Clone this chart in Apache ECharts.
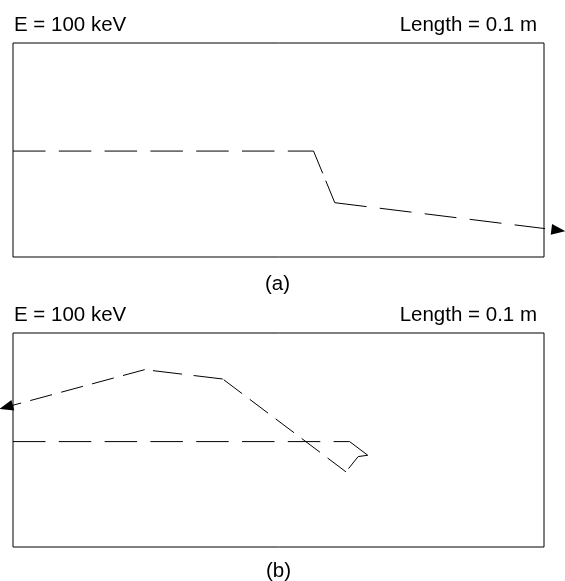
<!DOCTYPE html>
<html>
<head>
<meta charset="utf-8">
<script src="https://cdn.jsdelivr.net/npm/echarts@6/dist/echarts.min.js"></script>
<style>
html, body { margin: 0; padding: 0; background: #fff; }
#main { width: 565px; height: 581px; }
</style>
</head>
<body>
<div id="main"></div>
<script>
// track (a): x in mm along the 0.1 m slab, y in mm from the beam axis
var trackAx = [0, 56.6, 60.6, 102.7];
var trackAy = [-0.2, -0.2, -9.85, -15.0];
// track (b): backscattered electron
var trackBx = [0, 63.4, 66.8, 65.0, 62.7, 39.5, 24.8, -1.3];
var trackBy = [-0.3, -0.3, -2.85, -3.1, -5.95, 11.4, 13.15, 6.15];

var energyLabel = 'E = 100 keV';
var lengthLabel = 'Length = 0.1 m';
var panelLabels = ['(a)', '(b)'];

// dash pattern restarts on each step of the track
var dashA = [[32.5, 13.3], [24, 8], [32, 13.3]];
var dashB = [[32.5, 13.3], 'solid', 'solid', [15.4, 10], [23, 9.5], [29.3, 11.7], [22.5, 9.5]];
var arrowRot = [-97, 105];

var font = "'Liberation Sans', Arial, Helvetica, sans-serif";

function makeSegments(xs, ys, dashes, gridIdx, rot) {
    var out = [];
    for (let i = 0; i < xs.length - 1; ++i) {
        var end = {value: [xs[i + 1], ys[i + 1]]};
        if (i == xs.length - 2) {
            end.symbol = 'triangle';
            end.symbolSize = [11, 14];
            end.symbolRotate = rot;
        }
        out.push({
            type: 'line',
            xAxisIndex: gridIdx,
            yAxisIndex: gridIdx,
            clip: false,
            symbol: 'none',
            showSymbol: true,
            silent: true,
            itemStyle: {color: '#000'},
            lineStyle: {color: '#000', width: 1, type: dashes[i]},
            data: [[xs[i], ys[i]], end]
        });
    }
    return out;
}

function textTitle(txt, pos) {
    return Object.assign({
        text: txt,
        padding: 0,
        textStyle: {fontFamily: font, fontSize: 20.5, fontWeight: 'normal', color: '#000'}
    }, pos);
}

var grids = [
    {left: 13, top: 43, width: 531, height: 214},
    {left: 13, top: 333, width: 531, height: 214}
].map(g => Object.assign(g, {show: true, borderColor: '#000', borderWidth: 1, backgroundColor: 'transparent'}));

var axisBase = {show: false, min: 0, max: 100};

echarts.init(document.getElementById('main')).setOption({
    animation: false,
    title: [
        textTitle(energyLabel, {left: 14, top: 15}),
        textTitle(lengthLabel, {right: 28, top: 15}),
        textTitle(panelLabels[0], {left: 265, top: 274}),
        textTitle(energyLabel, {left: 14, top: 305}),
        textTitle(lengthLabel, {right: 28, top: 305}),
        textTitle(panelLabels[1], {left: 266, top: 561})
    ],
    grid: grids,
    xAxis: [
        Object.assign({type: 'value', gridIndex: 0}, axisBase),
        Object.assign({type: 'value', gridIndex: 1}, axisBase)
    ],
    yAxis: [
        {type: 'value', gridIndex: 0, show: false, min: -20, max: 20},
        {type: 'value', gridIndex: 1, show: false, min: -20, max: 20}
    ],
    series: makeSegments(trackAx, trackAy, dashA, 0, arrowRot[0])
        .concat(makeSegments(trackBx, trackBy, dashB, 1, arrowRot[1]))
});
</script>
</body>
</html>
